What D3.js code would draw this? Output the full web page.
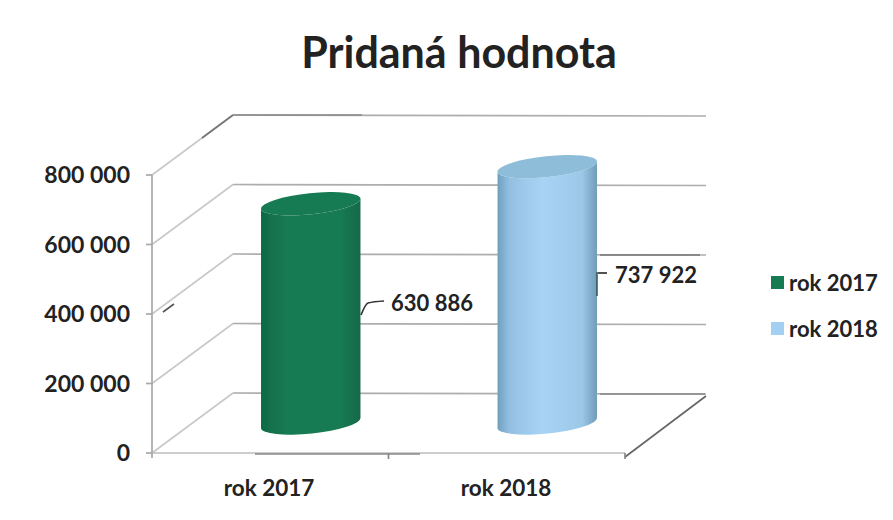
<!DOCTYPE html>
<html><head><meta charset="utf-8">
<script src="https://cdnjs.cloudflare.com/ajax/libs/d3/7.8.5/d3.min.js"></script>
<style>html,body{margin:0;background:#fff}svg{display:block}
text{font-family:Lato,"Open Sans",sans-serif;font-weight:700;fill:#222}</style>
</head><body><svg id="c" width="893" height="520"></svg>
<script>
const title = "Pridaná hodnota";
const categories = ["rok 2017", "rok 2018"];
const values = [630886, 737922];
const valueLabels = ["630 886", "737 922"];
const colors = ["#177a52", "#a3cff2"];
const tickValues = [0, 200000, 400000, 600000, 800000];
const tickLabels = ["0", "200 000", "400 000", "600 000", "800 000"];

const svg = d3.select("#c");
const depth = {dx: 81, dy: -60};
const y = d3.scaleLinear().domain([0, 800000]).range([453, 175]);
const x = d3.scaleBand().domain(categories).range([152, 625]);
const defs = svg.append("defs");
defs.append("filter").attr("id", "soft").append("feGaussianBlur").attr("stdDeviation", 0.7);
const gradStops = [
  [["0","#0f6a46"],["0.25","#177a52"],["0.8","#177a52"],["1","#12694a"]],
  [["0","#6f9fbf"],["0.12","#93c0e2"],["0.45","#a9d3f5"],["0.85","#9cc8e8"],["1","#6f9cb8"]]
];
gradStops.forEach((s, i) => {
  const g = defs.append("linearGradient").attr("id", "g" + i);
  s.forEach(d => g.append("stop").attr("offset", d[0]).attr("stop-color", d[1]));
});

const marks = svg.append("g").attr("filter", "url(#soft)");
const line = (x1, y1, x2, y2, c, w) => marks.append("line")
  .attr("x1", x1).attr("y1", y1).attr("x2", x2).attr("y2", y2)
  .attr("stroke", c).attr("stroke-width", w || 1.7);

const fx0 = x.range()[0], fx1 = x.range()[1];
const backR = fx1 + depth.dx;
// walls
tickValues.forEach(v => {
  const fy = y(v), by = fy + depth.dy;
  line(fx0, fy, fx0 + depth.dx, by, "#c9c9c9");
  line(fx0 + depth.dx, by, backR, by + 1, "#adadad");
  line(fx0 - 6, fy, fx0, fy, "#a8a8a8");
});
line(fx0, y(0), fx0, y(800000), "#a8a8a8");
line(fx0, y(0), fx1, y(0), "#bcbcbc");
line(fx1, y(0) + 4, backR, y(0) + depth.dy + 3, "#666");
line(fx0, y(0), fx0, y(0) + 5, "#a8a8a8");
[fx0 + x.step(), fx1].forEach(t => line(t, y(0), t, y(0) + 6, "#888"));
// darker scanned fragments of the reference's rules
line(fx0 + 81, y(800000) - 60, fx0 + 210, y(800000) - 60, "#8a8a8a");
line(fx0 + 50, y(800000) - 37, fx0 + 81, y(800000) - 60, "#777");
line(163, 312, 174, 304, "#555");
line(255, y(0) + 1, 420, y(0) + 1, "#888", 1.4);
line(600, y(400000) + depth.dy + 1, 700, y(400000) + depth.dy + 1, "#777", 1.3);
line(600, y(0) + depth.dy + 1, 705, y(0) + depth.dy + 1, "#888", 1.4);

// cylinders: the scale's band sits midway through the chart's depth
const rx = 50, ry = 10.5, tilt = -6, rad = tilt * Math.PI / 180;
const baseY = y(0) + depth.dy / 2;
const yh = d3.scaleLinear().domain(y.domain()).range([baseY, baseY - (y(0) - y(800000))]);
categories.forEach((c, i) => {
  const cx = x(c) + x.bandwidth() / 2 + depth.dx / 2, top = yh(values[i]);
  const ex = rx * Math.cos(rad), ey = rx * Math.sin(rad);
  const lt = [cx - ex, top - ey], rt = [cx + ex, top + ey];
  const lb = [cx - ex, baseY - ey], rb = [cx + ex, baseY + ey];
  marks.append("path").attr("fill", `url(#g${i})`)
    .attr("d", `M${lt} L${lb} A${rx} ${ry} ${tilt} 0 0 ${rb} L${rt} A${rx} ${ry} ${tilt} 0 1 ${lt}Z`);
  marks.append("ellipse").attr("cx", cx).attr("cy", top).attr("rx", rx).attr("ry", ry)
    .attr("transform", `rotate(${tilt} ${cx} ${top})`)
    .attr("fill", i ? "#8dbdd8" : "#177a52");
});

// leaders
marks.append("path").attr("fill", "none").attr("stroke", "#333").attr("stroke-width", 1.6)
  .attr("d", d3.line().curve(d3.curveMonotoneX)([[361, 315], [368, 303], [384, 301]]));
line(598, 273, 607, 273, "#333");
line(597, 272, 597, 296, "#35505f", 1.5);

// axis text
svg.append("g").selectAll("text").data(tickValues).join("text")
  .attr("x", 130).attr("y", d => y(d) + 8).attr("text-anchor", "end")
  .attr("font-size", 23).text((d, i) => tickLabels[i]);
svg.append("g").selectAll("text").data(categories).join("text")
  .attr("x", (d, i) => [269, 506][i]).attr("y", 496).attr("text-anchor", "middle")
  .attr("font-size", 22.5).text(d => d);
svg.append("text").attr("x", 459).attr("y", 68).attr("text-anchor", "middle")
  .attr("font-size", 43).attr("font-weight", 900).text(title);
svg.append("g").selectAll("text").data(valueLabels).join("text")
  .attr("x", (d, i) => [391, 615][i]).attr("y", (d, i) => [311, 283][i])
  .attr("font-size", 22).text(d => d);
// legend
const lg = svg.append("g").selectAll("g").data(categories).join("g")
  .attr("transform", (d, i) => `translate(771,${[283, 329][i]})`);
lg.append("rect").attr("y", -7).attr("width", 13).attr("height", 13)
  .attr("fill", (d, i) => colors[i]).attr("filter", "url(#soft)");
lg.append("text").attr("x", 18).attr("y", 8).attr("font-size", 22).text(d => d);
</script></body></html>
